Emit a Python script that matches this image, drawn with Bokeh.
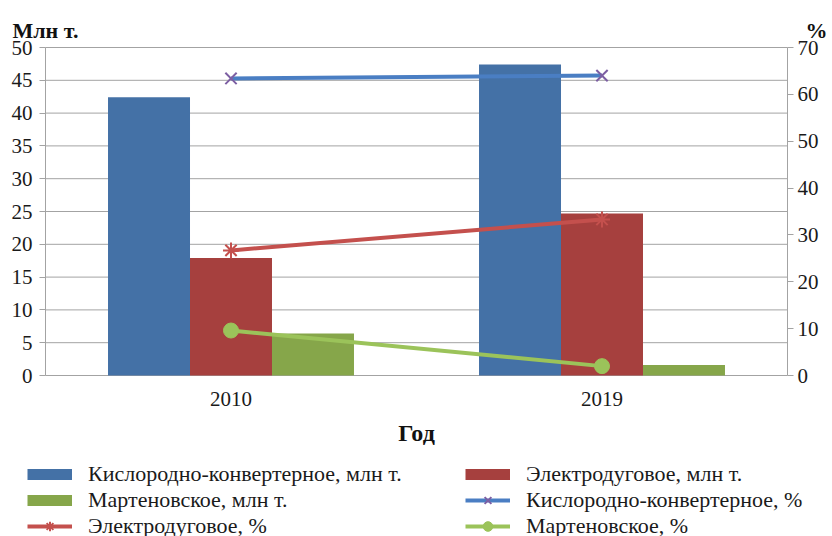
from bokeh.plotting import figure
from bokeh.models import (Range1d, LinearAxis, CategoricalAxis, FactorRange, FixedTicker,
                          Legend, LegendItem, Label, ColumnDataSource)
from bokeh.transform import dodge
from bokeh.embed import file_html
from bokeh.resources import INLINE

# Steel output by process, mln t, and each process' share, %
years = ["2010", "2019"]
bof_mt = [42.4, 47.4]      # Кислородно-конвертерное, млн т.
eaf_mt = [17.9, 24.7]      # Электродуговое, млн т.
ohf_mt = [6.4, 1.6]        # Мартеновское, млн т.
bof_pct = [63.4, 64.0]     # Кислородно-конвертерное, %
eaf_pct = [26.7, 33.3]     # Электродуговое, %
ohf_pct = [9.6, 2.0]       # Мартеновское, %

left_ticks = list(range(0, 51, 5))
right_ticks = list(range(0, 71, 10))
left_max, right_max = 50, 70

labels = {
    "bof_mt": "Кислородно-конвертерное, млн т.",
    "eaf_mt": "Электродуговое, млн т.",
    "ohf_mt": "Мартеновское, млн т.",
    "bof_pct": "Кислородно-конвертерное, %",
    "eaf_pct": "Электродуговое, %",
    "ohf_pct": "Мартеновское, %",
}
unit_left = "Млн т."
unit_right = "%"
x_title = "Год"

src = ColumnDataSource(dict(year=years, bof_mt=bof_mt, eaf_mt=eaf_mt, ohf_mt=ohf_mt,
                            bof_pct=bof_pct, eaf_pct=eaf_pct, ohf_pct=ohf_pct))

FONT = "Liberation Serif"
GRID = "#a3a3a3"
INK = "#1a1a1a"
BAR_COLORS = {"bof": "#4471A6", "eaf": "#A6403E", "ohf": "#86A64A"}
LINE_COLORS = {"bof": "#4A7EC3", "eaf": "#C4504D", "ohf": "#9BC35A"}

# The plot frame covers the whole canvas; the axes sit at fixed positions inside
# it so that the unit captions and the legend can share the same drawing area.
W, H = 832, 536
AX_L, AX_R = 46, 788      # pixel columns of the value axes
AX_T, AX_B = 47, 375      # pixel rows of the axes' top and of zero

ncat = len(years)
px_cat = (AX_R - AX_L) / ncat
pad = (AX_L + (W - AX_R)) / 2 / px_cat
px_l = (AX_B - AX_T) / left_max
px_r = (AX_B - AX_T) / right_max

p = figure(x_range=FactorRange(*years, range_padding=pad, range_padding_units="absolute"),
           y_range=Range1d(-(H - AX_B) / px_l, left_max + AX_T / px_l),
           x_axis_location=None, y_axis_location=None,
           width=W, height=H, output_backend="svg", toolbar_location=None,
           min_border=0, min_border_left=0, min_border_right=0,
           min_border_top=0, min_border_bottom=0)
p.extra_y_ranges = {"pct": Range1d(-(H - AX_B) / px_r, right_max + AX_T / px_r)}
p.outline_line_color = None
p.background_fill_color = "white"
p.border_fill_color = "white"
p.grid.visible = False

# horizontal gridlines of the left axis, spanning the category area only
p.segment(x0=[0] * len(left_ticks), x1=[ncat] * len(left_ticks), y0=left_ticks, y1=left_ticks,
          line_color=GRID, line_width=1, level="underlay")

# grouped bars
bw = 0.221
r_bof = p.vbar(x=dodge("year", -bw, range=p.x_range), top="bof_mt", width=bw, source=src,
               fill_color=BAR_COLORS["bof"], line_color=None)
r_eaf = p.vbar(x=dodge("year", 0, range=p.x_range), top="eaf_mt", width=bw, source=src,
               fill_color=BAR_COLORS["eaf"], line_color=None)
r_ohf = p.vbar(x=dodge("year", bw, range=p.x_range), top="ohf_mt", width=bw, source=src,
               fill_color=BAR_COLORS["ohf"], line_color=None)

# flat colour keys for the bar series in the legend (a single undefined point,
# so nothing shows in the plot area)
keys = {k: p.line(x=[years[0]], y=[float("nan")], line_color=c, line_width=11)
        for k, c in BAR_COLORS.items()}

# share lines on the right axis
l_bof = p.line(x="year", y="bof_pct", source=src, y_range_name="pct",
               line_color=LINE_COLORS["bof"], line_width=4)
m_bof = p.scatter(x="year", y="bof_pct", source=src, y_range_name="pct", marker="x",
                  size=16, line_color="#7D5FA3", line_width=2)
l_eaf = p.line(x="year", y="eaf_pct", source=src, y_range_name="pct",
               line_color=LINE_COLORS["eaf"], line_width=4)
m_eaf = p.scatter(x="year", y="eaf_pct", source=src, y_range_name="pct", marker="asterisk",
                  size=16, line_color=LINE_COLORS["eaf"], line_width=2)
l_ohf = p.line(x="year", y="ohf_pct", source=src, y_range_name="pct",
               line_color=LINE_COLORS["ohf"], line_width=4)
m_ohf = p.scatter(x="year", y="ohf_pct", source=src, y_range_name="pct", marker="circle",
                  size=15, fill_color=LINE_COLORS["ohf"], line_color=LINE_COLORS["ohf"])

# value axes
yl = LinearAxis(ticker=FixedTicker(ticks=left_ticks), fixed_location=0,
                bounds=(0, left_max))
yr = LinearAxis(y_range_name="pct", ticker=FixedTicker(ticks=right_ticks),
                fixed_location=ncat, bounds=(0, right_max))
p.add_layout(yl, "left")
p.add_layout(yr, "right")
for ax in (yl, yr):
    ax.axis_line_color = GRID
    ax.major_tick_line_color = GRID
    ax.major_tick_out = 6
    ax.major_tick_in = 0
    ax.minor_tick_line_color = None
    ax.major_label_text_font = FONT
    ax.major_label_text_font_size = "21px"
    ax.major_label_text_color = INK
yl.major_label_standoff = 7
yr.major_label_standoff = 4

# category axis
xa = CategoricalAxis(fixed_location=0)
p.add_layout(xa, "below")
xa.axis_line_color = None
xa.major_tick_line_color = None
xa.minor_tick_line_color = None
xa.major_label_standoff = 10
xa.major_label_text_font = FONT
xa.major_label_text_font_size = "21px"
xa.major_label_text_color = INK
xa.axis_label = x_title
xa.axis_label_text_font = FONT
xa.axis_label_text_font_size = "24px"
xa.axis_label_text_font_style = "bold"
xa.axis_label_text_color = "#111111"
xa.axis_label_standoff = 11

# units of the two value axes, above them
for txt, xs in ((unit_left, 12), (unit_right, 805)):
    p.add_layout(Label(x=xs, y=H - 30, x_units="screen", y_units="screen", text=txt,
                       text_font=FONT, text_font_size="22px", text_font_style="bold",
                       text_color="#111111", text_baseline="alphabetic"))

legend = Legend(
    items=[
        LegendItem(label=labels["bof_mt"], renderers=[keys["bof"]]),
        LegendItem(label=labels["eaf_mt"], renderers=[keys["eaf"]]),
        LegendItem(label=labels["ohf_mt"], renderers=[keys["ohf"]]),
        LegendItem(label=labels["bof_pct"], renderers=[l_bof, m_bof]),
        LegendItem(label=labels["eaf_pct"], renderers=[l_eaf, m_eaf]),
        LegendItem(label=labels["ohf_pct"], renderers=[l_ohf, m_ohf]),
    ],
    orientation="horizontal", ncols=2, location=(27, -3),
    glyph_width=45, glyph_height=24, label_standoff=16, label_width=377,
    spacing=0, padding=0, margin=0,
    label_text_font=FONT, label_text_font_size="22px", label_text_color=INK,
    background_fill_alpha=0, border_line_alpha=0,
)
p.add_layout(legend, "center")

open("out.html", "w").write(file_html(p, INLINE))
